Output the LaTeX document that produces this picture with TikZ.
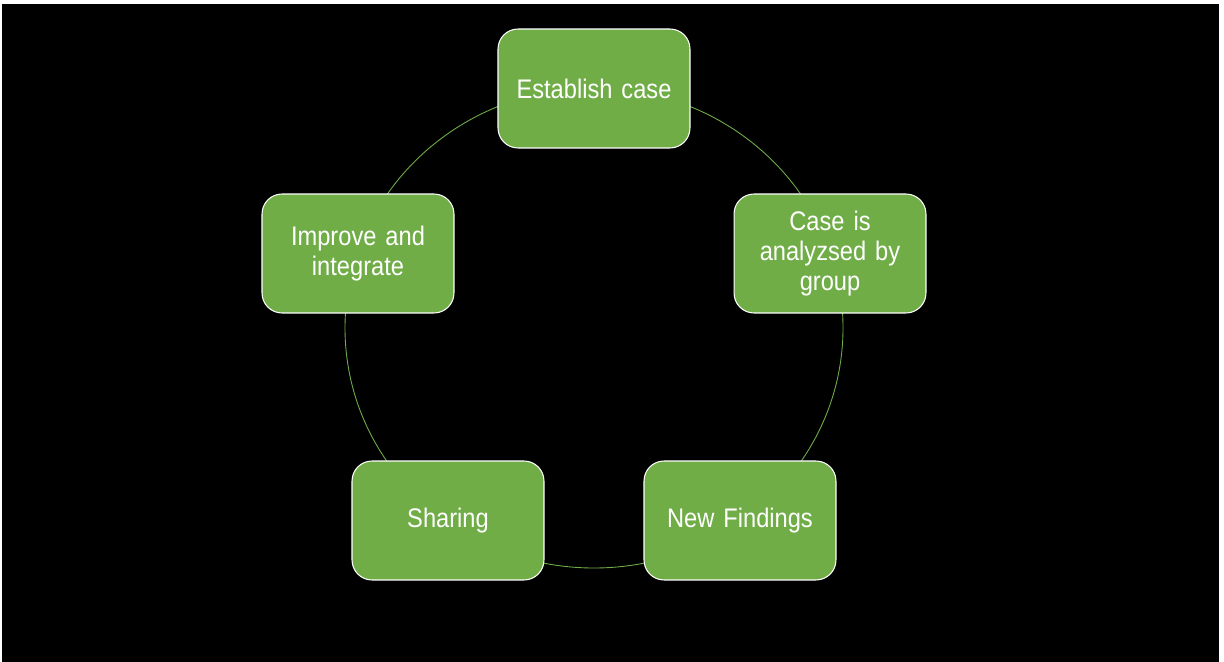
\documentclass[tikz,border=0pt]{standalone}
\usepackage{fontspec}
\setmainfont{Liberation Sans}[FakeStretch=0.88]
\definecolor{boxgreen}{HTML}{70AD47}
\begin{document}
\begin{tikzpicture}[x=0.02cm,y=-0.02cm,
  stepbox/.style={draw=white, line width=0.6pt, fill=boxgreen, rounded corners=0.4cm,
    minimum width=3.84cm, minimum height=2.38cm, text=white, align=center,
    font=\fontsize{15.3}{17.3}\selectfont, text width=3.3cm},
  ring/.style={draw=boxgreen, line width=0.5pt}]
\useasboundingbox (0,0) rectangle (1224,662);
\fill[white] (0,0) rectangle (1224,662);
\fill[black] (2,4) rectangle (1219,662);
\coordinate (c) at (594,328);
\draw[ring] (c) ellipse [x radius=249, y radius=240];
\node[stepbox] (est) at (594,88.5) {Establish case};
\node[stepbox] (case) at (830,253.5) {Case is\\analyzsed by\\group};
\node[stepbox] (new) at (740,520.5) {New Findings};
\node[stepbox] (share) at (448,520.5) {Sharing};
\node[stepbox] (imp) at (358,253.5) {Improve and\\integrate};
\end{tikzpicture}
\end{document}
